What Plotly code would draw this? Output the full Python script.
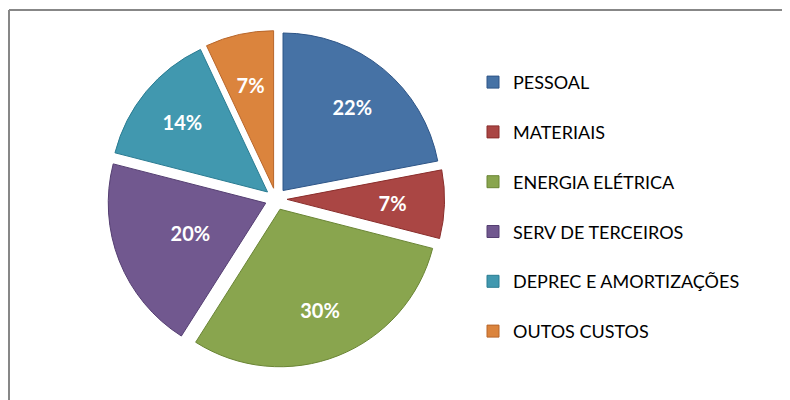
import plotly.graph_objects as go

# ---- data ----
categories = ["PESSOAL", "MATERIAIS", "ENERGIA ELÉTRICA", "SERV DE TERCEIROS",
              "DEPREC E AMORTIZAÇÕES", "OUTOS CUSTOS"]
values = [22, 7, 30, 20, 14, 7]

# ---- style ----
fill_colors = ["#4672A5", "#AA4644", "#89A54E", "#71588F", "#4198AF", "#DB843D"]
edge_colors = ["#2E5587", "#8A2D2B", "#6A8534", "#553F72", "#2A7C92", "#B8662A"]
# which slice labels sit nearer the centre (drawn by the inner label overlay)
inner_label = [False, True, False, True, False, True]

W, H = 790, 400
CX, CY = 268, 191          # pie centre (figure px)
R = 157.5                  # pie radius (px)
PULL = 0.07

def dom(cx, cy, half):
    return dict(x=[(cx - half) / W, (cx + half) / W],
                y=[1 - (cy + half) / H, 1 - (cy - half) / H])

half_main = R * (1 + PULL)

# legend entries: a blank first line widens the row spacing like the original
legend_labels = ["&nbsp;<br>" + c for c in categories]

fig = go.Figure()

# visible pie
fig.add_trace(go.Pie(
    labels=legend_labels, values=values, sort=False, direction="clockwise", rotation=0,
    pull=PULL, domain=dom(CX, CY, half_main),
    marker=dict(colors=fill_colors, line=dict(color=edge_colors, width=1)),
    textinfo="none", hovertext=categories, hoverinfo="text+percent",
))

label_font = dict(family="Lato", size=20, color="white", weight="bold")
clear = ["rgba(0,0,0,0)"] * len(values)

# outer label overlay
fig.add_trace(go.Pie(
    labels=legend_labels, values=values, sort=False, direction="clockwise", rotation=0,
    pull=PULL, hole=0.38, domain=dom(CX, CY, half_main), showlegend=False,
    marker=dict(colors=clear, line=dict(width=0)),
    textinfo="none", texttemplate=["" if b else "%{percent:.0%}" for b in inner_label],
    textposition="inside", insidetextorientation="horizontal",
    insidetextfont=label_font, hoverinfo="skip",
))

# inner label overlay (smaller radius so labels sit closer to centre)
r2 = R * 0.67 / 0.82
pull2 = PULL * R / r2
fig.add_trace(go.Pie(
    labels=legend_labels, values=values, sort=False, direction="clockwise", rotation=0,
    pull=pull2, domain=dom(CX, CY, r2 * (1 + pull2)), showlegend=False,
    marker=dict(colors=clear, line=dict(width=0)),
    textinfo="none", texttemplate=["%{percent:.0%}" if b else "" for b in inner_label],
    textposition="inside", insidetextorientation="horizontal",
    insidetextfont=label_font, hoverinfo="skip",
))

fig.update_layout(
    width=W, height=H,
    margin=dict(l=0, r=0, t=0, b=0),
    paper_bgcolor="white", plot_bgcolor="white",
    font=dict(family="Lato", color="#000000"),
    legend=dict(
        x=465 / W, xanchor="left", y=1 - 187 / H, yanchor="middle",
        valign="bottom",
        font=dict(family="Lato", size=18, color="#000000"),
        bgcolor="rgba(0,0,0,0)",
    ),
    shapes=[
        dict(type="line", xref="paper", yref="paper",
             x0=1 / W, x1=1, y0=1 - 2 / H, y1=1 - 2 / H,
             line=dict(color="#878787", width=2)),
        dict(type="line", xref="paper", yref="paper",
             x0=1 / W, x1=1 / W, y0=0, y1=1 - 2 / H,
             line=dict(color="#878787", width=2)),
    ],
)

fig.write_html("out.html")
